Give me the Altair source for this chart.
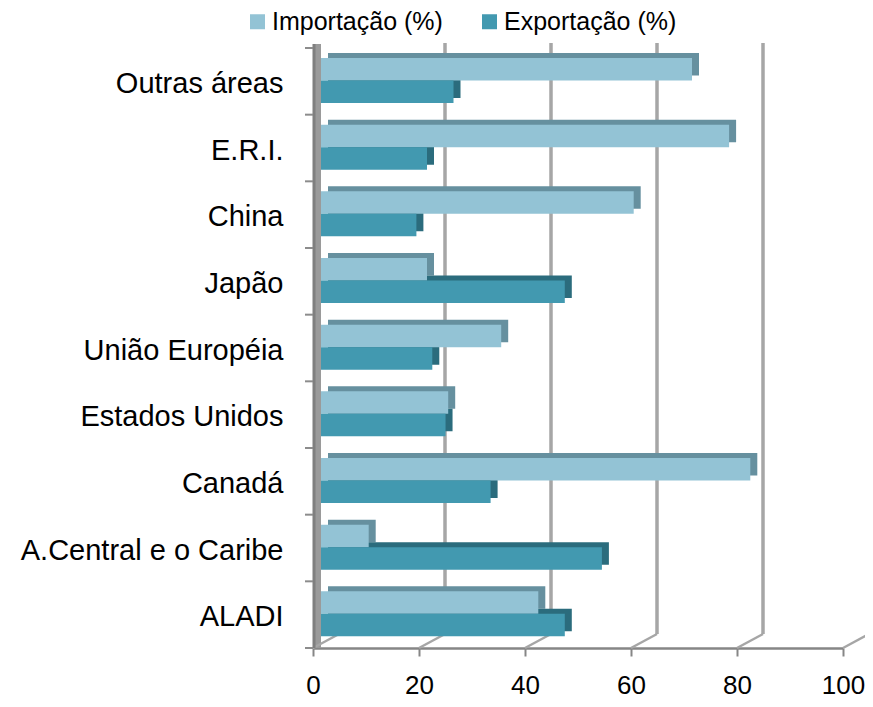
import altair as alt
import pandas as pd

categories = ["Outras áreas", "E.R.I.", "China", "Japão", "União Européia",
              "Estados Unidos", "Canadá", "A.Central e o Caribe", "ALADI"]
series = ["Importação (%)", "Exportação (%)"]
importacao = [70, 77, 59, 20, 34, 24, 81, 9, 41]
exportacao = [25, 20, 18, 46, 21, 23.5, 32, 53, 46]
x_ticks = [0, 20, 40, 60, 80, 100]
grid_vals = [20, 40, 60, 80]

front_colors = ["#93C3D5", "#4299B0"]
back_colors = ["#66909F", "#2B6C7D"]

rows = []
for c, i, e in zip(categories, importacao, exportacao):
    rows.append({"cat": c, "serie": series[0], "v": i})
    rows.append({"cat": c, "serie": series[1], "v": e})
df = pd.DataFrame(rows)

W, H = 530, 600
FONT = "Liberation Sans"
n = len(categories)
step = H / n
PI = 0.325
PO = PI / 2
bw = step * (1 - PI)
ALIGN = 0.46
top_gap = ALIGN * 2 * PO * step

yscale = alt.Scale(paddingInner=PI, paddingOuter=PO, align=ALIGN)
xscale = alt.Scale(domain=[0, 100], nice=False)

xaxis = alt.Axis(title=None, values=x_ticks, grid=False, domainColor="#868686",
                 domainWidth=2.5, tickColor="#868686", tickWidth=2, tickSize=8,
                 labelFontSize=26, labelFont=FONT, labelColor="black",
                 labelPadding=16, labelFlush=False)
yaxis = alt.Axis(title=None, ticks=False, domain=False, labelFontSize=29,
                 labelFont=FONT, labelColor="black", labelPadding=30,
                 labelLimit=400, labelOffset=3.5)

base = alt.Chart(df)

wall = alt.Chart(pd.DataFrame({"a": [0]})).mark_rect(color="#9A9A9A").encode(
    x=alt.value(0), x2=alt.value(8), y=alt.value(-4), y2=alt.value(H)
)
wall_edge = alt.Chart(pd.DataFrame({"a": [0]})).mark_rule(color="#7F7F7F", strokeWidth=3).encode(
    x=alt.value(1), y=alt.value(-4), y2=alt.value(H)
)

grid = alt.Chart(pd.DataFrame({"g": grid_vals})).mark_rule(
    color="#A6A6A6", strokeWidth=3.5, xOffset=26
).encode(
    x=alt.X("g:Q", scale=xscale, axis=xaxis), y=alt.value(-5), y2=alt.value(H - 14)
)

diag = alt.Chart(pd.DataFrame({"g": x_ticks})).mark_rule(
    color="#A6A6A6", strokeWidth=2.5, x2Offset=26
).encode(
    x=alt.X("g:Q", scale=xscale, axis=xaxis), x2="g:Q", y=alt.value(H), y2=alt.value(H - 14)
)

back = base.mark_bar(xOffset=8 + 7, x2Offset=8 + 7).encode(
    y=alt.Y("cat:N", sort=categories, scale=yscale, axis=yaxis),
    yOffset=alt.YOffset("serie:N", sort=series,
                        scale=alt.Scale(range=[-5, bw - 5])),
    x=alt.X("v:Q", scale=xscale, axis=xaxis),
    x2=alt.datum(0),
    color=alt.Color("serie:N", sort=series,
                    scale=alt.Scale(domain=series, range=back_colors), legend=None),
)

front = base.mark_bar(xOffset=8, x2Offset=8).encode(
    y=alt.Y("cat:N", sort=categories, scale=yscale, axis=yaxis),
    yOffset=alt.YOffset("serie:N", sort=series),
    x=alt.X("v:Q", scale=xscale, axis=xaxis),
    x2=alt.datum(0),
    color=alt.Color("serie:N", sort=series,
                    scale=alt.Scale(domain=series, range=front_colors),
                    legend=alt.Legend(title=None, orient="none", direction="horizontal",
                                      legendX=-68, legendY=-39, symbolType="square",
                                      symbolSize=225, symbolStrokeWidth=0,
                                      labelFontSize=25, labelFont=FONT, labelColor="black",
                                      labelLimit=400, columnPadding=34, labelOffset=2)),
)

lticks = alt.Chart(pd.DataFrame({"cat": categories})).mark_rule(
    color="#8C8C8C", strokeWidth=2, yOffset=-top_gap
).encode(
    y=alt.Y("cat:N", sort=categories, scale=yscale, bandPosition=0, axis=yaxis),
    x=alt.value(-8), x2=alt.value(0)
)
bottom_tick = alt.Chart(pd.DataFrame({"a": [0]})).mark_rule(color="#8C8C8C", strokeWidth=2).encode(
    y=alt.value(H), x=alt.value(-8), x2=alt.value(0)
)

chart = alt.layer(wall, grid, diag, back, front, wall_edge, lticks, bottom_tick).resolve_scale(
    yOffset="independent", color="independent"
).properties(
    width=W, height=H,
    autosize=alt.AutoSizeParams(type="none"),
    padding={"left": 305, "top": 40, "right": 22, "bottom": 51},
).configure_view(stroke=None)

chart.save("out.html", embed_options={"renderer": "svg", "actions": False})
